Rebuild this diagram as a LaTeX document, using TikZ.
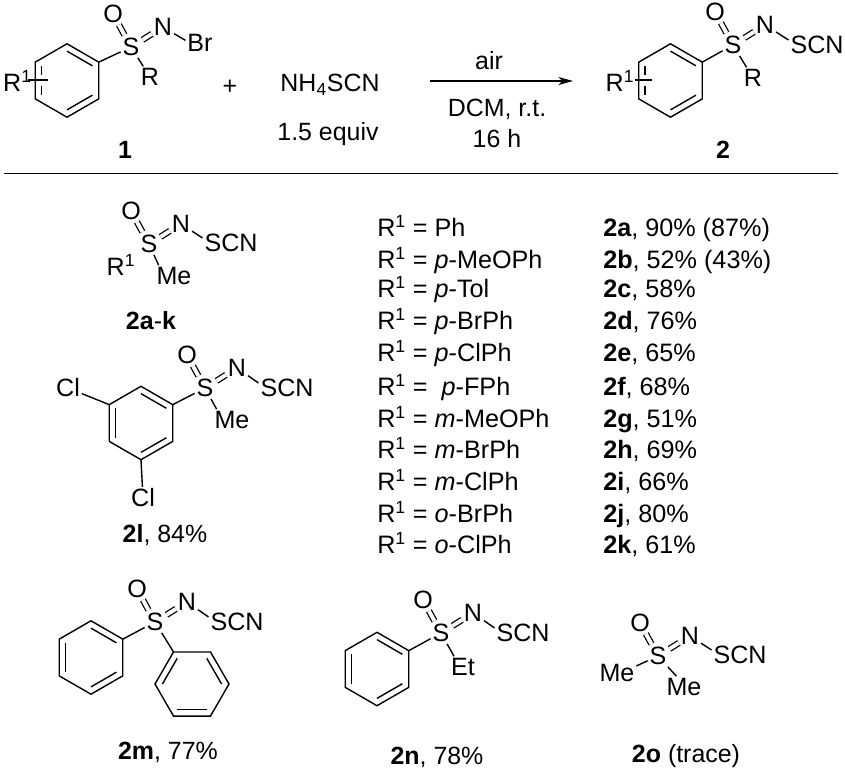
\documentclass[tikz,border=0pt]{standalone}
\usepackage{fontspec}
\setmainfont{Liberation Sans}
\usetikzlibrary{calc}
\usetikzlibrary{arrows.meta}

\begin{document}
\begin{tikzpicture}[x=0.75pt, y=-0.75pt]
\tikzset{
  bond/.style={line width=1.05pt},
  dbond/.style={double, double distance=2.9pt, line width=0.95pt, shorten <=1pt},
  broken/.style={bond, dash pattern=on 7.2pt off 7.6pt on 7.2pt},
  atom/.style={font=\fontsize{18.8}{20}\selectfont, inner sep=0pt, outer sep=1.5pt},
  txt/.style={font=\fontsize{18.7}{20}\selectfont, inner sep=0pt},
  row/.style={font=\fontsize{18.9}{20}\selectfont, inner sep=0pt, anchor=base west},
}

\useasboundingbox (0,0) rectangle (845,771);

% rings: upright ones first, then the flat one of 2m
\foreach \n/\cx/\cy in {a/67/80.5, b/670.5/80.5, c/141/423, d/91/657.5, e/377/669}{
  \coordinate (\n) at (\cx,\cy);
  \foreach \i in {0,...,5}
    \coordinate (\n\i) at ({\cx+36.7*cos(60*\i-90)},{\cy+36.7*sin(60*\i-90)});
  \draw[bond] (\n0) -- (\n1) -- (\n2) -- (\n3) -- (\n4) -- (\n5) -- cycle;
  \draw[bond] ($(\n)!.8!(\n0)$) -- ($(\n)!.8!(\n1)$);
  \draw[bond] ($(\n)!.8!(\n2)$) -- ($(\n)!.8!(\n3)$);
}
\coordinate (f) at (192,684);
\foreach \i in {0,...,5}
  \coordinate (f\i) at ({192+37*cos(60*\i-120)},{684+37*sin(60*\i-120)});
\draw[bond] (f0) -- (f1) -- (f2) -- (f3) -- (f4) -- (f5) -- cycle;
\draw[bond] ($(f)!.8!(f0)$) -- ($(f)!.8!(f5)$);
\draw[bond] ($(f)!.8!(f1)$) -- ($(f)!.8!(f2)$);
\draw[bond] ($(f)!.8!(f3)$) -- ($(f)!.8!(f4)$);
\draw[bond] ($(c)!.8!(c4)$) -- ($(c)!.8!(c5)$);
\draw[bond] ($(d)!.8!(d4)$) -- ($(d)!.8!(d5)$);
\draw[bond] ($(e)!.8!(e4)$) -- ($(e)!.8!(e5)$);
\draw[broken] ($(a)!.8!(a5)$) -- ($(a)!.8!(a4)$);
\draw[broken] ($(b)!.8!(b5)$) -- ($(b)!.8!(b4)$);

% the S(=O)=N-SCN group
\foreach \n/\x/\y in {a/131/47, b/733/45, h/149/244, l/205/388, m/155/622, n/441/633, o/658/656}{
  \node[atom] (S\n) at (\x,\y) {S};
  \node[atom] (O\n) at (\x-18,\y-33) {O};
  \node[atom] (N\n) at (\x+32,\y-20) {N};
  \draw[dbond] (S\n) -- (O\n);
  \draw[dbond] (S\n) -- (N\n);
}
\node[atom] (Xa) at (200,43) {Br};
\foreach \n/\x/\y in {b/817/45, h/231/243, l/287/388, m/237/622, n/523/633, o/740/655}
  \node[atom] (X\n) at (\x,\y) {SCN};
\foreach \n in {a,b,h,l,m,n,o}
  \draw[bond] (N\n) -- (X\n.170);

% the other groups on S
\node[atom] (Ra) at (150,77) {R};
\node[atom] (Rb) at (753,78) {R};
\node[atom] (Me1) at (174,276) {Me};
\node[atom] (Me2) at (232,420) {Me};
\node[atom] (Et) at (463,667) {Et};
\node[atom] (Me3) at (684,687) {Me};
\node[atom] (Me4) at (617,673) {Me};
\node[atom] (Rh) at (121,265) {R\textsuperscript{1}};
\node[atom] (Cl1) at (68,388) {Cl};
\node[atom] (Cl2) at (143,498) {Cl};

\draw[bond] (Sa) -- (Ra);
\draw[bond] (Sb) -- (Rb);
\draw[bond] (Sh) -- (Me1.145);
\draw[bond] (Sl) -- (Me2.145);
\draw[bond] (Sn) -- (Et.130);
\draw[bond] (So) -- (Me3.125);
\draw[bond] (So) -- (Me4.20);
\draw[bond] (Sa) -- (a1);
\draw[bond] (Sb) -- (b1);
\draw[bond] (Sl) -- (c1);
\draw[bond] (Sm) -- (d1);
\draw[bond] (Sn) -- (e1);
\draw[bond] (Sm) -- (f0);
\draw[bond] (c5) -- (Cl1);
\draw[bond] (c3) -- (Cl2);

% R1 on the free rings
\node[atom] (R1a) at (17.5,81) {R\textsuperscript{1}};
\node[atom] (R1b) at (620,81) {R\textsuperscript{1}};
\coordinate (ca0) at (28,80);
\coordinate (ca1) at (48,80);
\coordinate (cb0) at (635,80);
\coordinate (cb1) at (652,80);
\draw[bond] (ca0) -- (ca1);
\draw[bond] (cb0) -- (cb1);

% reaction line
\node[txt] (plus) at (230,87) {+};
\node[txt] (salt) at (330,85) {NH\textsubscript{4}SCN};
\node[txt] (eq) at (328,134) {1.5 equiv};
\node[txt] (air) at (489,61) {air};
\node[txt] (dcm) at (497,109) {DCM, r.t.};
\node[txt] (time) at (497,139) {16 h};
\coordinate (ar0) at (430,81);
\coordinate (ar1) at (573,81);
\draw[line width=1.05pt, -{Stealth[length=11pt,width=6pt,inset=3pt]}] (ar0) -- (ar1);
\node[txt] (n1) at (125,150) {\textbf{1}};
\node[txt] (n2) at (723,150) {\textbf{2}};
\coordinate (rule0) at (4,173);
\coordinate (rule1) at (838,173);
\draw[line width=0.7pt] (rule0) -- (rule1);

% table
\foreach \yy/\rr/\dd [count=\i] in {
  236/Ph/{\textbf{2a}, 90\% (87\%)},
  268/\textit{p}-MeOPh/{\textbf{2b}, 52\% (43\%)},
  297/\textit{p}-Tol/{\textbf{2c}, 58\%},
  329/\textit{p}-BrPh/{\textbf{2d}, 76\%},
  361/\textit{p}-ClPh/{\textbf{2e}, 65\%},
  395/~\textit{p}-FPh/{\textbf{2f}, 68\%},
  427/\textit{m}-MeOPh/{\textbf{2g}, 51\%},
  458/\textit{m}-BrPh/{\textbf{2h}, 69\%},
  490/\textit{m}-ClPh/{\textbf{2i}, 66\%},
  522/\textit{o}-BrPh/{\textbf{2j}, 80\%},
  553/\textit{o}-ClPh/{\textbf{2k}, 61\%}}{
  \node[row] (sub\i) at (377,\yy) {R\textsuperscript{1} = \rr};
  \node[row] (yld\i) at (603,\yy) {\dd};
}

% labels of the structures
\node[txt] (lh) at (151,321) {\textbf{2a}-\textbf{k}};
\node[txt] (ll) at (165,535) {\textbf{2l}, 84\%};
\node[txt] (lm) at (168,752) {\textbf{2m}, 77\%};
\node[txt] (ln) at (437,757) {\textbf{2n}, 78\%};
\node[txt] (lo) at (686,756) {\textbf{2o} (trace)};
\end{tikzpicture}
\end{document}
